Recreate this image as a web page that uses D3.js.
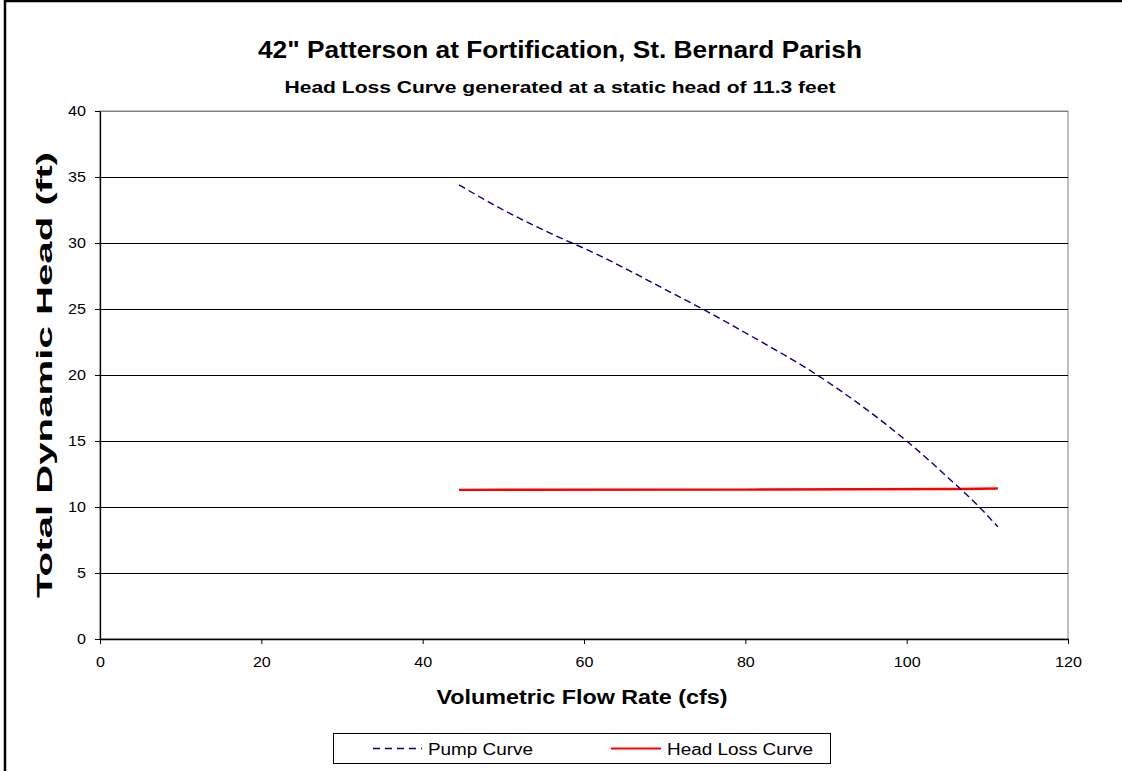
<!DOCTYPE html>
<html><head><meta charset="utf-8">
<script src="https://cdn.jsdelivr.net/npm/d3@7"></script>
<style>body{margin:0;background:#fff}svg{display:block}</style>
</head><body>
<svg id="c" width="1122" height="771"></svg>
<script>
const title = "42\" Patterson at Fortification, St. Bernard Parish";
const subtitle = "Head Loss Curve generated at a static head of 11.3 feet";
const xLabel = "Volumetric Flow Rate (cfs)";
const yLabel = "Total Dynamic Head (ft)";
const xTicks = [0, 20, 40, 60, 80, 100, 120];
const yTicks = [0, 5, 10, 15, 20, 25, 30, 35, 40];
const pumpFlow = [44.5, 50, 58.5, 60, 70, 74.7, 80, 88.9, 95, 100, 105, 109, 111.3];
const pumpHead = [34.4, 32.5, 30, 29.6, 26.5, 25, 23.2, 20, 17.4, 15, 12.3, 10, 8.5];
const lossFlow = [44.5, 80, 106.5, 111.3];
const lossHead = [11.3, 11.32, 11.36, 11.4];
const seriesNames = ["Pump Curve", "Head Loss Curve"];

const svg = d3.select("#c");
const font = "Arial, 'Liberation Sans', sans-serif";
const L = 100, R = 1068, T = 111, B = 639;
const x = d3.scaleLinear().domain([0, 120]).range([L, R]);
const y = d3.scaleLinear().domain([0, 40]).range([B, T]);

function stretch(sel, f) {
  sel.each(function () {
    const w = this.getComputedTextLength();
    d3.select(this).attr("textLength", w * f).attr("lengthAdjust", "spacingAndGlyphs");
  });
}

// outer frame (top & left visible)
svg.append("rect").attr("x", 5).attr("y", 1).attr("width", 1130).attr("height", 790)
  .attr("fill", "none").attr("stroke", "#000").attr("stroke-width", 2.5);

// plot border
svg.append("rect").attr("x", L).attr("y", T).attr("width", R - L).attr("height", B - T)
  .attr("fill", "none").attr("stroke", "#808080").attr("stroke-width", 1);

// gridlines
svg.append("g").selectAll("line").data(yTicks.filter(d => d > 0)).join("line")
  .attr("x1", L).attr("x2", R).attr("y1", d => Math.round(y(d)) + 0.5).attr("y2", d => Math.round(y(d)) + 0.5)
  .attr("stroke", d => d === 40 ? "#808080" : "#000").attr("stroke-width", 1);

// axes
const xAxis = d3.axisBottom(x).tickValues(xTicks).tickSize(5).tickSizeOuter(0).tickPadding(13);
const gx = svg.append("g").attr("transform", `translate(0,${B})`).call(xAxis);
gx.select(".domain").attr("stroke", "#000").attr("stroke-width", 1.3);
gx.selectAll("text").attr("font-family", font).attr("font-size", 14).attr("fill", "#000").call(stretch, 1.15);

const yAxis = d3.axisLeft(y).tickValues(yTicks).tickSize(5).tickSizeOuter(0).tickPadding(9);
const gy = svg.append("g").attr("transform", `translate(${L},0)`).call(yAxis);
gy.select(".domain").attr("stroke", "#000").attr("stroke-width", 1.3);
gy.selectAll("text").attr("font-family", font).attr("font-size", 14).attr("fill", "#000").call(stretch, 1.15);

// lines
const line = d3.line().x(d => x(d[0])).y(d => y(d[1])).curve(d3.curveMonotoneX);
const lossLine = d3.line().x(d => x(d[0])).y(d => y(d[1]));
svg.append("path").datum(lossFlow.map((f, i) => [f, lossHead[i]])).attr("d", lossLine)
  .attr("fill", "none").attr("stroke", "#ff0000").attr("stroke-width", 2.4);
svg.append("path").datum(pumpFlow.map((f, i) => [f, pumpHead[i]])).attr("d", line)
  .attr("fill", "none").attr("stroke", "#000080").attr("stroke-width", 1.4).attr("stroke-dasharray", "7,4");

function label(txt, xx, yy, size, len, bold, anchor) {
  return svg.append("text").attr("x", xx).attr("y", yy).attr("text-anchor", anchor || "middle")
    .attr("font-family", font).attr("font-weight", bold ? "bold" : "normal").attr("font-size", size)
    .attr("textLength", len).attr("lengthAdjust", "spacingAndGlyphs").text(txt);
}
label(title, 560, 58, 24, 604, true);
label(subtitle, 560, 93, 16, 551, true);
label(xLabel, 582, 704, 20, 291, true);
svg.append("text").attr("transform", "translate(52,375) rotate(-90)").attr("text-anchor", "middle")
  .attr("font-family", font).attr("font-weight", "bold").attr("font-size", 22)
  .attr("textLength", 446).attr("lengthAdjust", "spacingAndGlyphs").text(yLabel);

// legend
const lg = svg.append("g");
lg.append("rect").attr("x", 333.5).attr("y", 733.5).attr("width", 497).attr("height", 30)
  .attr("fill", "#fff").attr("stroke", "#000").attr("stroke-width", 1);
lg.append("line").attr("x1", 373).attr("x2", 422).attr("y1", 748.5).attr("y2", 748.5)
  .attr("stroke", "#000080").attr("stroke-width", 1.5).attr("stroke-dasharray", "7,5");
lg.append("line").attr("x1", 611).attr("x2", 661).attr("y1", 748.5).attr("y2", 748.5)
  .attr("stroke", "#ff0000").attr("stroke-width", 2.2);
label(seriesNames[0], 428, 755, 16, 105, false, "start");
label(seriesNames[1], 667, 755, 16, 146, false, "start");
</script>
</body></html>
